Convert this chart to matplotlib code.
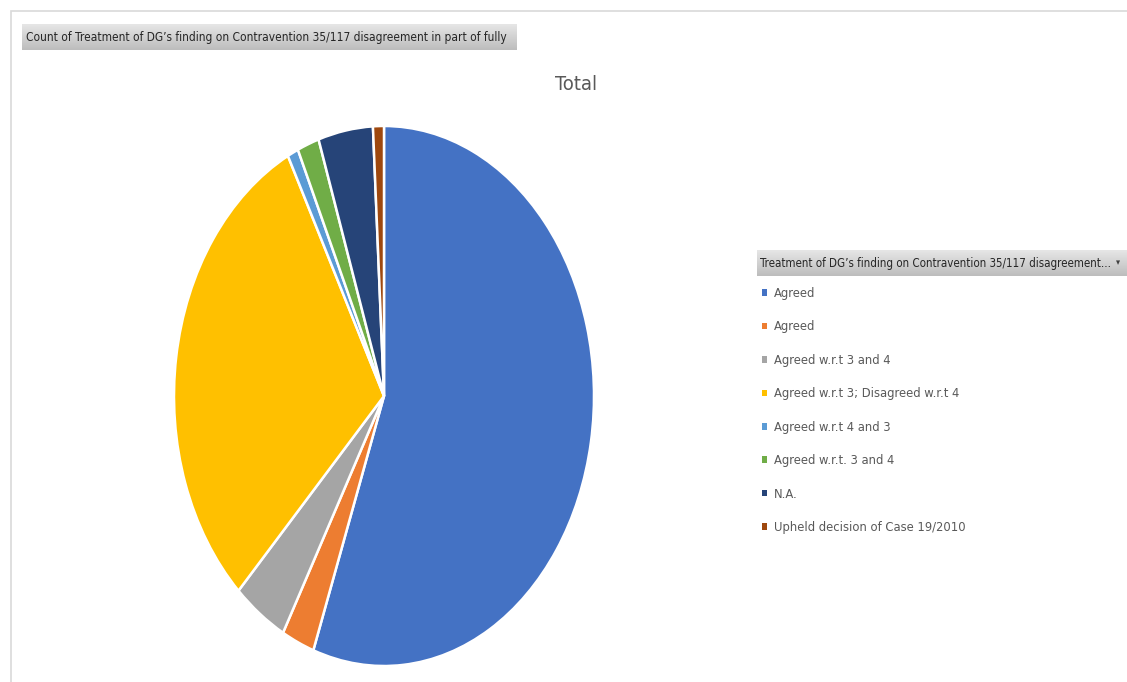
import numpy as np
import matplotlib.pyplot as plt
from matplotlib.patches import Rectangle
from matplotlib.colors import LinearSegmentedColormap

labels = ["Agreed", "Agreed", "Agreed w.r.t 3 and 4", "Agreed w.r.t 3; Disagreed w.r.t 4",
          "Agreed w.r.t 4 and 3", "Agreed w.r.t. 3 and 4", "N.A.", "Upheld decision of Case 19/2010"]
counts = [66, 3, 5, 36, 1, 2, 5, 1]
colors = ["#4472C4", "#ED7D31", "#A5A5A5", "#FFC000", "#5B9BD5", "#70AD47", "#264478", "#9E480E"]

field_name = "Count of Treatment of DG\u2019s finding on Contravention 35/117 disagreement in part of fully"
legend_title = "Treatment of DG\u2019s finding on Contravention 35/117 disagreement..."

W, H = 1127, 682
plt.rcParams["font.family"] = "DejaVu Sans"
plt.rcParams["font.stretch"] = "condensed"

fig = plt.figure(figsize=(W / 100, H / 100), dpi=100)

def fx(px):
    return px / W

def fy(py):
    return 1 - py / H

# outer chart border (only top and left are inside the picture)
fig.add_artist(Rectangle((fx(11), -0.1), 1.2, fy(11) + 0.1, transform=fig.transFigure,
                         fill=False, edgecolor="#d9d9d9", linewidth=1.2))

# grey gradient bars behind the field buttons
grad = np.linspace(0, 1, 50).reshape(-1, 1)
gcmap = LinearSegmentedColormap.from_list("g", ["#e6e6e6", "#bdbdbd"])

def grey_bar(x0, y0, x1, y1):
    bax = fig.add_axes([fx(x0), fy(y1), fx(x1 - x0), (y1 - y0) / H])
    bax.imshow(grad, aspect="auto", cmap=gcmap, extent=[0, 1, 0, 1])
    bax.set_axis_off()

grey_bar(22, 24, 517, 50)
fig.text(fx(26), fy(37), field_name, fontsize=8.6, va="center", ha="left", color="#262626")

grey_bar(757, 250, 1127, 276)
fig.text(fx(760), fy(263), legend_title, fontsize=8.3, va="center", ha="left", color="#262626")
fig.text(fx(1116), fy(263), "\u25be", fontsize=6.5, va="center", ha="left", color="#404040")

# chart title
fig.text(fx(576), fy(84), "Total", fontsize=14.5, ha="center", va="center", color="#595959")

# pie (stretched vertically like the reference)
ax = fig.add_axes([fx(174), fy(666), fx(594 - 174), (666 - 126) / H])
wedges, _ = ax.pie(counts, colors=colors, startangle=90, counterclock=False, radius=1,
                   wedgeprops=dict(edgecolor="white", linewidth=1.8))
ax.set_aspect("auto")
ax.set_xlim(-1, 1)
ax.set_ylim(-1, 1)
for w in wedges:
    w.set_clip_on(False)

leg = fig.legend(wedges, labels, loc="upper left", bbox_to_anchor=(fx(762), fy(287)),
                 frameon=False, fontsize=9.3, labelspacing=1.585, handlelength=0.4,
                 handleheight=0.4, handletextpad=0.55, borderpad=0, borderaxespad=0)
for t in leg.get_texts():
    t.set_color("#595959")
for h in leg.legend_handles:
    h.set_edgecolor("none")

fig.savefig("out.png", dpi=100)
